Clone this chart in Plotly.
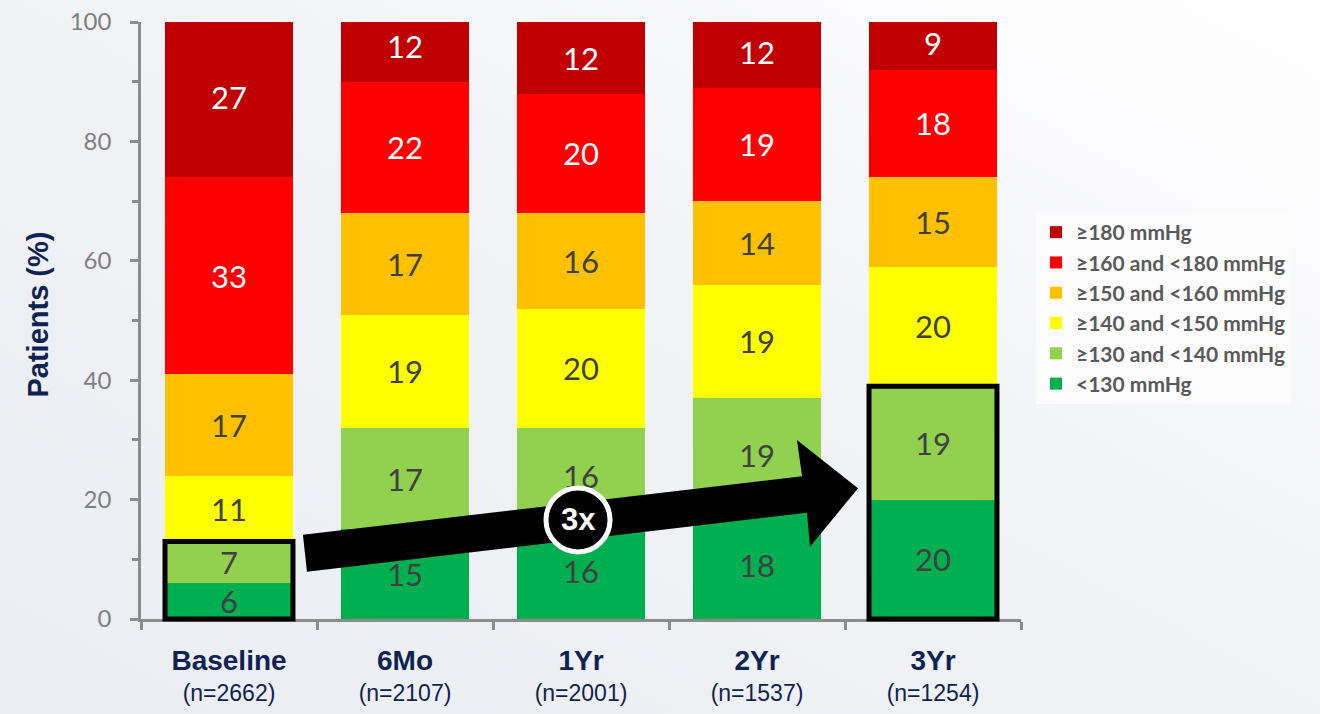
import base64
import plotly.graph_objects as go

# Follow-up time points and cohort sizes
timepoints = ["Baseline", "6Mo", "1Yr", "2Yr", "3Yr"]
cohort_n = [2662, 2107, 2001, 1537, 1254]

# Share of patients (%) per systolic BP band, bottom band first
bp_lt130 = [6, 15, 16, 18, 20]
bp_130_140 = [7, 17, 16, 19, 19]
bp_140_150 = [11, 19, 20, 19, 20]
bp_150_160 = [17, 17, 16, 14, 15]
bp_160_180 = [33, 22, 20, 19, 18]
bp_ge180 = [27, 12, 12, 12, 9]

band_names = ["<130 mmHg", "≥130 and <140 mmHg", "≥140 and <150 mmHg",
              "≥150 and <160 mmHg", "≥160 and <180 mmHg", "≥180 mmHg"]
band_values = [bp_lt130, bp_130_140, bp_140_150, bp_150_160, bp_160_180, bp_ge180]
band_colors = ["#00B050", "#92D050", "#FFFF00", "#FFC000", "#FF0000", "#C00000"]
label_colors = ["#404040", "#404040", "#404040", "#404040", "#FFFFFF", "#FFFFFF"]

NAVY = "#0F2352"
AXIS_GREY = "#8C8C8C"
BAR_WIDTH = 0.727
NUM_FONT = "Lato, 'Open Sans', sans-serif"
NARROW_FONT = "'Liberation Sans Narrow', 'Arial Narrow', 'Liberation Sans', Arial, sans-serif"

xs = list(range(len(timepoints)))

fig = go.Figure()
for name, vals, col, tcol in zip(band_names, band_values, band_colors, label_colors):
    fig.add_trace(go.Bar(
        x=xs, y=vals, name=name, width=BAR_WIDTH,
        marker=dict(color=col, line=dict(width=0)),
        text=[str(v) for v in vals], textposition="inside", textangle=0,
        insidetextanchor="middle", constraintext="none",
        textfont=dict(family=NUM_FONT, size=31, color=tcol),
        hoverinfo="skip",
    ))

tick_text = [f"<span style='font-size:28px'><b>{t}</b></span><br>"
             f"<span style='font-size:23px'>(n={n})</span>"
             for t, n in zip(timepoints, cohort_n)]

# soft diagonal page background
svg = ('<svg xmlns="http://www.w3.org/2000/svg" width="1320" height="714">'
       '<defs><linearGradient id="g" x1="0" y1="1" x2="1" y2="0">'
       '<stop offset="0" stop-color="#EBEDF2"/><stop offset="0.5" stop-color="#F1F2F6"/>'
       '<stop offset="1" stop-color="#FFFFFF"/></linearGradient></defs>'
       '<rect width="1320" height="714" fill="url(#g)"/></svg>')
bg_src = "data:image/svg+xml;base64," + base64.b64encode(svg.encode()).decode()

L, R, T, B = 141, 299, 22, 95
PW, PH = 1320 - L - R, 714 - T - B

half = BAR_WIDTH / 2
shapes = []
# frames around the two green bands of the first and last bars
for i in (0, len(timepoints) - 1):
    top = bp_lt130[i] + bp_130_140[i]
    shapes.append(dict(type="rect", xref="x", yref="paper",
                       x0=xs[i] - half, x1=xs[i] + half, y0=0, y1=top / 100,
                       line=dict(color="black", width=5), fillcolor="rgba(0,0,0,0)"))

# growth arrow from the baseline frame to the 3-year frame
arrow_pts = [(0.42, 14.1), (3.256, 23.9), (3.227, 30.0), (3.574, 21.9),
             (3.301, 12.1), (3.284, 17.8), (0.443, 7.9)]
path = "M " + " L ".join(f"{x},{y}" for x, y in arrow_pts) + " Z"
shapes.append(dict(type="path", xref="x", yref="y", path=path,
                   fillcolor="black", line=dict(width=0)))

# badge on the arrow
bx, by = 1.983, 16.6
shapes.append(dict(type="circle", xref="x", yref="y", xsizemode="pixel", ysizemode="pixel",
                   xanchor=bx, yanchor=by, x0=-32, x1=32, y0=-32, y1=32,
                   fillcolor="black", line=dict(color="white", width=5)))

annotations = [
    dict(x=bx, y=by, xref="x", yref="y", text="<b>3x</b>", showarrow=False,
         xanchor="center", yanchor="middle",
         font=dict(family=NARROW_FONT, size=31, color="white")),
    dict(x=(38 - L) / PW, y=0.51, xref="paper", yref="paper", text="<b>Patients (%)</b>",
         textangle=-90, showarrow=False, xanchor="center", yanchor="middle",
         font=dict(family="'Liberation Sans', Arial, sans-serif", size=29, color=NAVY)),
]

fig.update_layout(
    width=1320, height=714, autosize=False,
    margin=dict(l=L, r=R, t=T, b=B, autoexpand=False),
    barmode="stack",
    paper_bgcolor="#F1F2F6", plot_bgcolor="rgba(0,0,0,0)",
    images=[dict(source=bg_src, xref="paper", yref="paper",
                 x=-L / PW, y=1 + T / PH, sizex=1320 / PW, sizey=714 / PH,
                 xanchor="left", yanchor="top", sizing="stretch", layer="below")],
    uniformtext=dict(minsize=31, mode="show"),
    showlegend=True,
    legend=dict(x=(1036 - L) / PW, y=(619 - 212) / PH, xanchor="left", yanchor="top",
                traceorder="reversed", bgcolor="#FCFCFD",
                font=dict(family=NUM_FONT, size=21, color="#595959", weight="bold"),
                itemwidth=30, tracegroupgap=0),
    xaxis=dict(range=[-0.5, len(timepoints) - 0.5], tickmode="array", tickvals=xs,
               ticktext=tick_text, ticks="", showgrid=False, zeroline=False,
               showline=True, linecolor=AXIS_GREY, linewidth=2.5, automargin=False,
               tickfont=dict(family=NARROW_FONT, size=24, color=NAVY),
               ticklabelstandoff=19,
               minor=dict(tickmode="linear", tick0=-0.5, dtick=1, ticks="outside",
                          ticklen=8, tickwidth=2.5, tickcolor=AXIS_GREY)),
    yaxis=dict(range=[0, 100], tickmode="linear", tick0=0, dtick=20,
               ticks="outside", ticklen=8, tickwidth=2.5, tickcolor=AXIS_GREY,
               showgrid=False, zeroline=False, showline=True, automargin=False,
               linecolor=AXIS_GREY, linewidth=2.5,
               tickfont=dict(family=NUM_FONT, size=24, color="#7F7F7F"),
               ticklabelstandoff=14,
               minor=dict(tickmode="linear", tick0=10, dtick=20, ticks="outside",
                          ticklen=6, tickwidth=2.5, tickcolor=AXIS_GREY)),
    shapes=shapes,
    annotations=annotations,
)

fig.write_html("out.html")
